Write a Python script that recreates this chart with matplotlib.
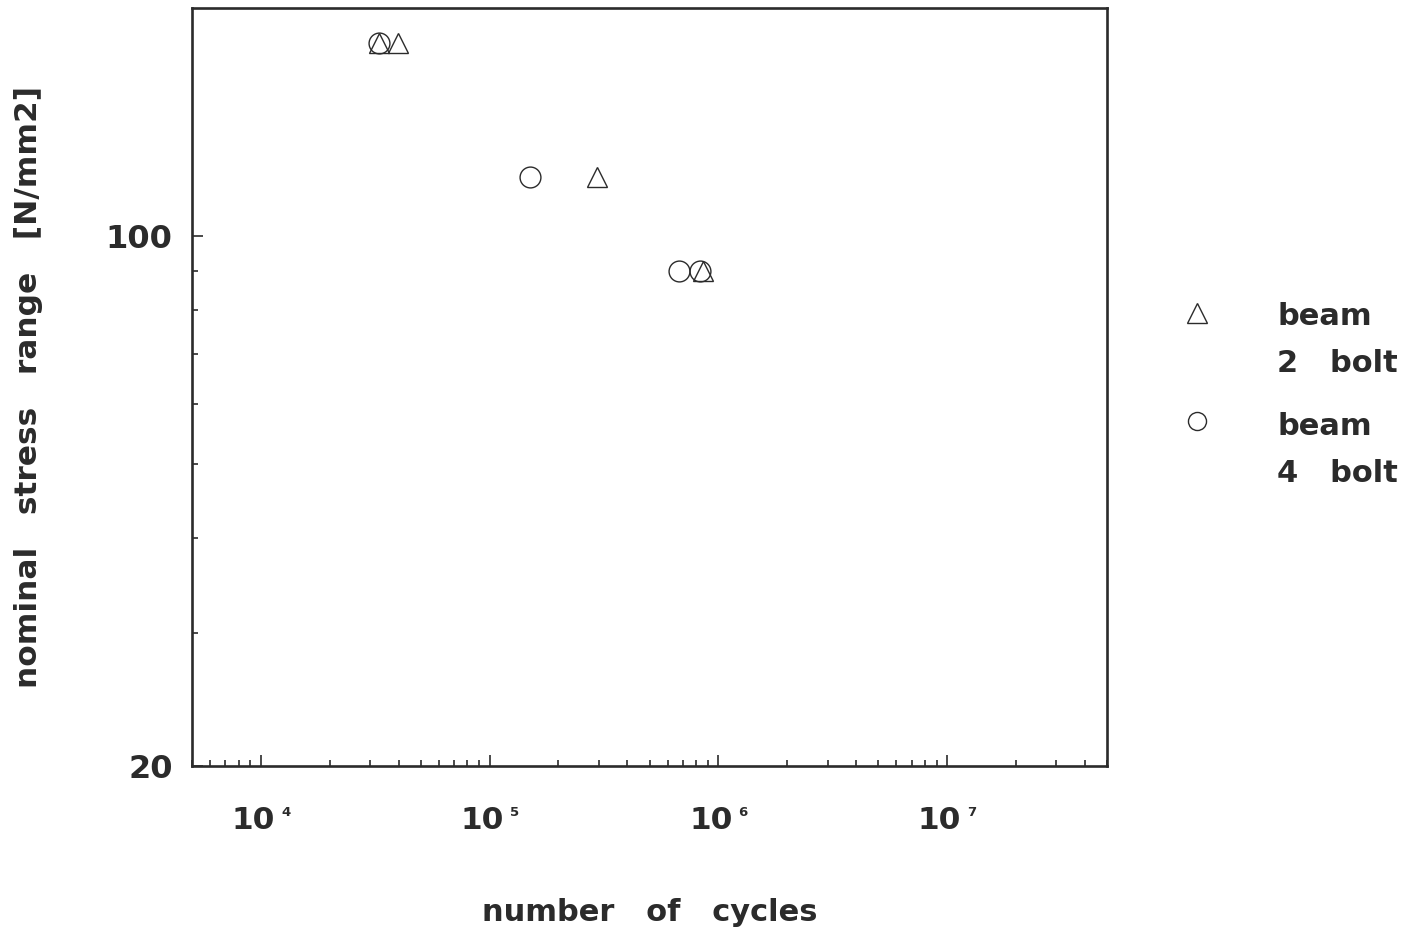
import matplotlib
matplotlib.use("Agg")
import matplotlib.pyplot as plt
from matplotlib.lines import Line2D
from matplotlib.ticker import FixedLocator, NullFormatter, FixedFormatter

# ---- data ----
two_bolt_cycles = [32700, 39600, 294000, 857000]
two_bolt_stress = [180.0, 180.0, 119.6, 90.0]
four_bolt_cycles = [32700, 150000, 670000, 834000]
four_bolt_stress = [180.0, 119.6, 90.0, 90.0]

x_decades = [4, 5, 6, 7]
y_major = [20, 100]
y_major_labels = ["20", "100"]
y_minor = [30, 40, 50, 60, 70, 80, 90]

legend_labels = [("beam", "2   bolt"), ("beam", "4   bolt")]

FONT = "DejaVu Sans"
INK = "#2b2b2b"
FS = 22

plt.rcParams["font.family"] = [FONT]
plt.rcParams["font.weight"] = "bold"

fig = plt.figure(figsize=(14.1, 9.38), dpi=100)
ax = fig.add_axes([192 / 1410, 1 - 766 / 938, 915 / 1410, 758 / 938])

ax.plot(two_bolt_cycles, two_bolt_stress, linestyle="none", marker="^", ms=15,
        mfc="none", mec=INK, mew=1.0)
ax.plot(four_bolt_cycles, four_bolt_stress, linestyle="none", marker="o", ms=15,
        mfc="none", mec=INK, mew=1.0)

ax.set_xscale("log")
ax.set_yscale("log")
ax.set_xlim(5e3, 5e7)
ax.set_ylim(20, 200)

for s in ax.spines.values():
    s.set_linewidth(1.9)
    s.set_color(INK)

# y ticks
ax.yaxis.set_major_locator(FixedLocator(y_major))
ax.yaxis.set_major_formatter(FixedFormatter(y_major_labels))
ax.yaxis.set_minor_locator(FixedLocator(y_minor))
ax.yaxis.set_minor_formatter(NullFormatter())

# x ticks
ax.xaxis.set_major_locator(FixedLocator([10 ** d for d in x_decades]))
ax.xaxis.set_major_formatter(NullFormatter())
ax.xaxis.set_minor_formatter(NullFormatter())

ax.tick_params(which="both", direction="in", color=INK, top=False, right=False)
ax.tick_params(which="major", length=8, width=1.2)
ax.tick_params(which="minor", length=4.5, width=1.2)
ax.tick_params(axis="y", which="major", labelsize=FS + 1, pad=14, labelcolor=INK)

# x tick labels: "10" with small raised exponent
for d in x_decades:
    ax.annotate("10", xy=(10 ** d, 0), xycoords=("data", "axes fraction"),
                xytext=(-5.5, -29), textcoords="offset points",
                ha="center", va="top", fontsize=FS + 0.5, fontweight="bold", color=INK)
    ax.annotate(str(d), xy=(10 ** d, 0), xycoords=("data", "axes fraction"),
                xytext=(14.5, -28.5), textcoords="offset points",
                ha="left", va="top", fontsize=9.5, fontweight="bold", color=INK)

ax.set_xlabel("number   of   cycles", fontsize=FS, fontweight="bold", color=INK)
ax.xaxis.set_label_coords(0.5, -(898 - 766) / 758)
ax.set_ylabel("nominal   stress   range   [N/mm2]", fontsize=FS + 0.5, fontweight="bold", color=INK)
ax.yaxis.set_label_coords((43 - 192) / 915, 0.5)

# legend (manual)
W, H = 1410, 938
markers = ["^", "o"]
sizes = [14, 13]
rows = [(313, 316, 363), (421, 426, 473)]
for m, ms, (my, ty1, ty2), (l1, l2) in zip(markers, sizes, rows, legend_labels):
    fig.add_artist(Line2D([1197 / W], [1 - my / H], transform=fig.transFigure,
                          marker=m, ms=ms, mfc="none", mec=INK, mew=1.0, linestyle="none"))
    fig.text(1277 / W, 1 - ty1 / H, l1, ha="left", va="center", fontsize=FS,
             fontweight="bold", color=INK)
    fig.text(1277 / W, 1 - ty2 / H, l2, ha="left", va="center", fontsize=FS,
             fontweight="bold", color=INK)

fig.savefig("out.png", dpi=100, facecolor="white")
